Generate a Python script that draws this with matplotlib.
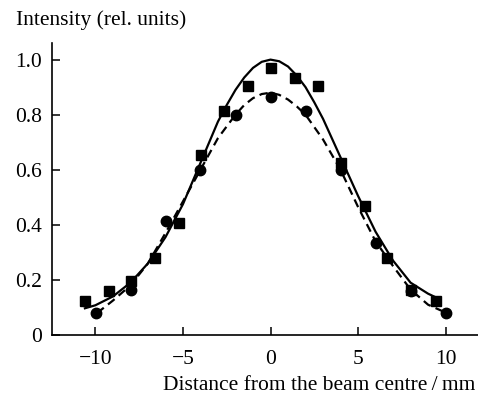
import matplotlib
matplotlib.use("Agg")
import matplotlib.pyplot as plt

# Measured points
squares_x = [-10.6, -9.25, -7.95, -6.6, -5.25, -3.95, -2.65, -1.3, 0.05, 1.4, 2.7, 4.0, 5.4, 6.65, 8.0, 9.45]
squares_y = [0.125, 0.16, 0.195, 0.28, 0.405, 0.655, 0.815, 0.905, 0.97, 0.935, 0.905, 0.625, 0.47, 0.28, 0.165, 0.125]

circles_x = [-9.95, -7.95, -5.95, -4.0, -1.95, 0.05, 2.0, 4.0, 6.0, 8.0, 10.05]
circles_y = [0.08, 0.165, 0.415, 0.6, 0.8, 0.865, 0.815, 0.6, 0.335, 0.16, 0.08]

# Fitted curves
solid_x = [-10.6, -10, -9, -8, -7, -6, -5, -4, -3, -2.5, -2, -1.5, -1, -0.5, 0,
           0.5, 1, 1.5, 2, 2.5, 3, 4, 5, 6, 7, 8, 9, 9.4]
solid_y = [0.097, 0.108, 0.14, 0.19, 0.26, 0.355, 0.475, 0.625, 0.775, 0.835, 0.89, 0.935,
           0.97, 0.992, 1.0, 0.994, 0.975, 0.942, 0.9, 0.845, 0.785, 0.645, 0.505, 0.375,
           0.27, 0.19, 0.15, 0.138]

dash_x = [-9.9, -9, -8, -7, -6, -5, -4, -3, -2, -1.5, -1, -0.5, 0, 0.5, 1, 1.5, 2,
          3, 4, 5, 6, 7, 8, 9, 10.05]
dash_y = [0.08, 0.125, 0.18, 0.26, 0.37, 0.485, 0.60, 0.715, 0.80, 0.835, 0.86, 0.875, 0.88,
          0.872, 0.855, 0.83, 0.80, 0.71, 0.60, 0.465, 0.34, 0.25, 0.165, 0.11, 0.08]

xticks = [-10, -5, 0, 5, 10]
xtick_labels = ["\u221210", "\u22125", "0", "5", "10"]
yticks = [0, 0.2, 0.4, 0.6, 0.8, 1.0]
ytick_labels = ["0", "0.2", "0.4", "0.6", "0.8", "1.0"]

plt.rcParams['font.family'] = ['Liberation Serif', 'DejaVu Serif']

FS = 15.5

fig = plt.figure(figsize=(4.78, 3.99), dpi=100)
ax = fig.add_axes([0.108, 0.1604, 0.892, 0.7316])

ax.plot(solid_x, solid_y, color='black', lw=1.6, solid_joinstyle='round')
ax.plot(dash_x, dash_y, color='black', lw=1.6, dashes=(3.8, 2.4))
ax.plot(squares_x, squares_y, 's', color='black', markersize=7, zorder=3)
ax.plot(circles_x, circles_y, 'o', color='black', markersize=7.5, zorder=3)

ax.set_xlim(-12.5, 11.85)
ax.set_ylim(0, 1.06)
ax.set_xticks(xticks)
ax.set_xticklabels(xtick_labels)
ax.set_yticks(yticks)
ax.set_yticklabels(ytick_labels)

for s in ['top', 'right']:
    ax.spines[s].set_visible(False)
for s in ['left', 'bottom']:
    ax.spines[s].set_linewidth(1.2)

ax.tick_params(direction='in', length=5.5, width=1.1, labelsize=FS, pad=7)
ax.tick_params(axis='x', pad=10.5)

fig.text(0.033, 0.937, "Intensity (rel. units)", fontsize=FS, ha='left', va='baseline')
fig.text(0.994, 0.023, "Distance from the beam centre\u2009/\u2009mm", fontsize=FS,
         ha='right', va='baseline')

fig.savefig("out.png", dpi=100)
